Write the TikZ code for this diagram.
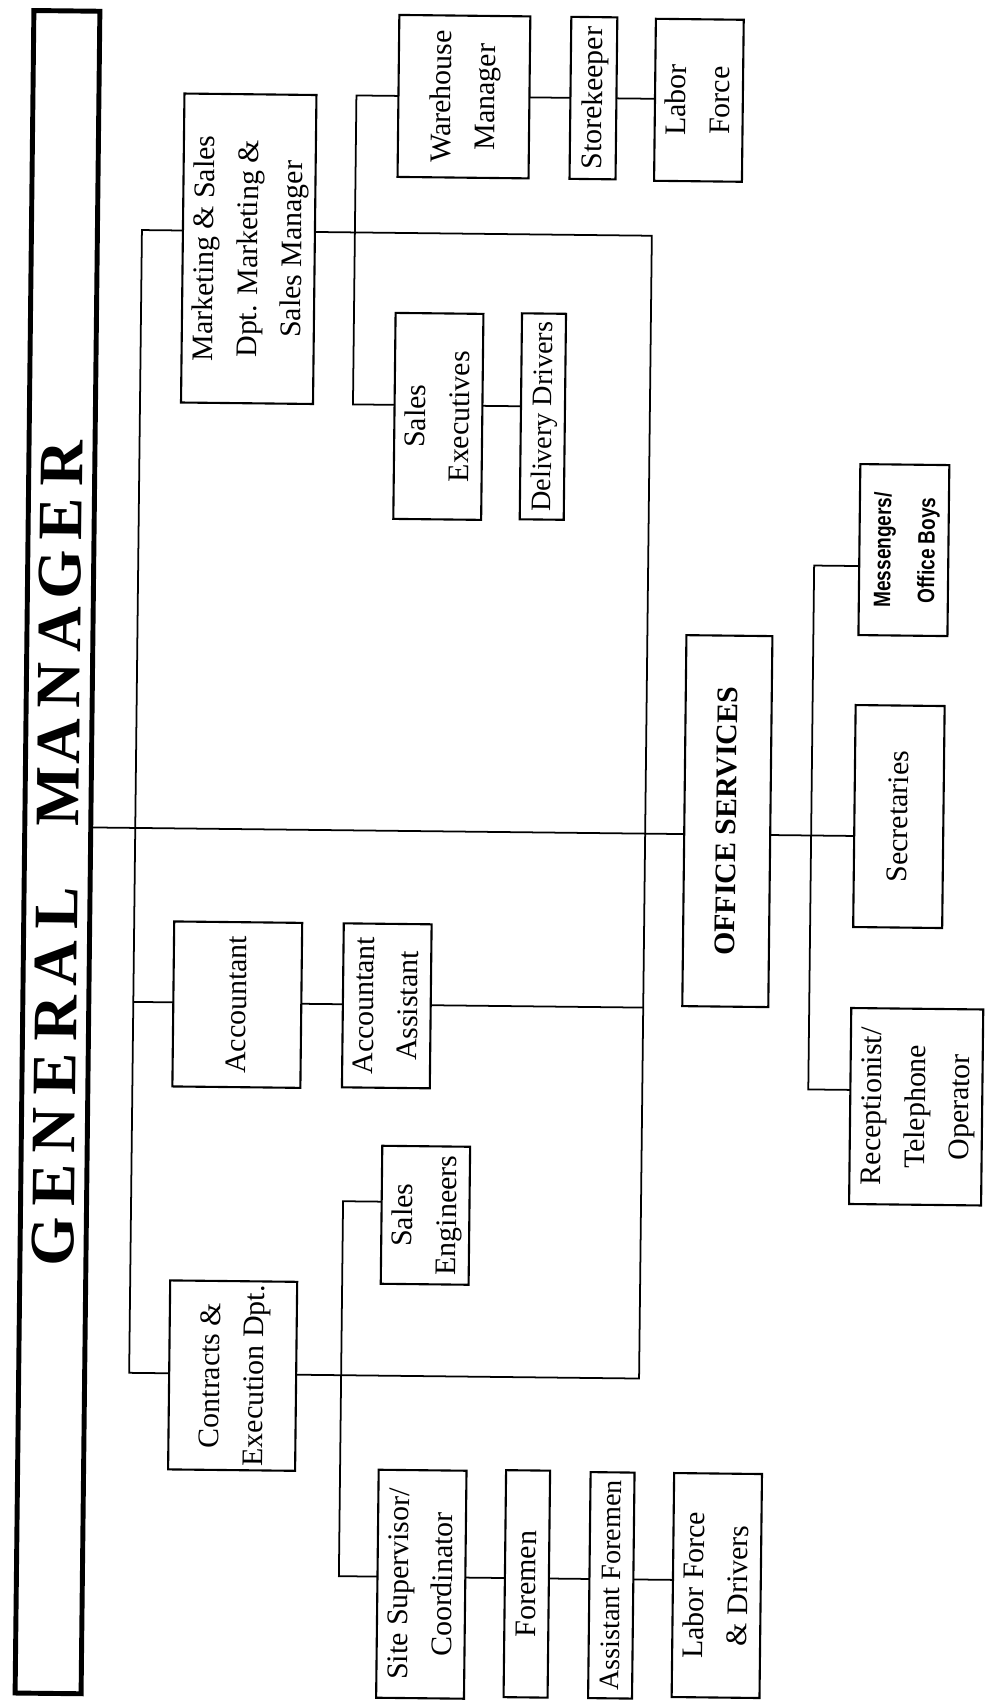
\documentclass[tikz,border=0pt]{standalone}
\usepackage{fontspec}
\usepackage{graphicx}
\setmainfont{Liberation Serif}
\newfontfamily\narrowsans[FakeStretch=0.8]{Liberation Sans}
\newcommand\orgfont{\fontsize{17}{25}\selectfont}
\newcommand\gmfont{\fontsize{36}{40}\selectfont\bfseries}
\newcommand\gmletter[1]{\makebox[1.112cm]{#1}}
\newcommand\vtext[1]{\rotatebox{90}{\begin{tabular}{@{}c@{}}#1\end{tabular}}}
% box given by its corners (x1,y1) (x2,y2), text set sideways
\newcommand\orgnode[7][]{%
  \pgfmathsetmacro\boxw{(#5-#3)*0.02}%
  \pgfmathsetmacro\boxh{(#6-#4)*0.02}%
  \node[orgbox,#1,minimum width=\boxw cm,minimum height=\boxh cm] (#2) at ({(#3+#5)/2},{(#4+#6)/2}) {\vtext{#7}};%
}
\begin{document}
\begin{tikzpicture}[x=0.02cm,y=-0.02cm,
  orgbox/.style={draw=black,line width=1.2pt,inner sep=0pt,outer sep=0pt,font=\orgfont},
  gmbox/.style={draw=black,line width=2.8pt,inner sep=0pt,outer sep=0pt,
    minimum width=1.32cm,minimum height=33.66cm},
  conn/.style={draw=black,line width=1pt}]
\fill[white] (0,0) rectangle (987,1706);
\useasboundingbox (0,0) rectangle (987,1706);

% the printed sheet sits slightly turned
\begin{scope}[rotate around={-0.64:(493,852)},transform shape]

% head of the chart
\node[gmbox] (gm) at (57.5,857) {\rotatebox{90}{\gmfont
  \gmletter{G}\gmletter{E}\gmletter{N}\gmletter{E}\gmletter{R}\gmletter{A}\gmletter{L}%
  \gmletter{}%
  \gmletter{M}\gmletter{A}\gmletter{N}\gmletter{A}\gmletter{G}\gmletter{E}\gmletter{R}}};

% marketing branch
\orgnode{mkt}{176}{97}{308}{406}{Marketing \& Sales\\Dpt. Marketing \&\\Sales Manager}
\orgnode{wh}{390}{16}{521}{178}{Warehouse\\Manager}
\orgnode{sk}{562}{16}{608}{178}{Storekeeper}
\orgnode{lf}{648}{17}{733}{179}{Labor\\Force}
\orgnode{se}{390}{314}{477}{520}{Sales\\Executives}
\orgnode[font=\fontsize{16}{25}\selectfont]{dd}{516}{313}{560}{519}{Delivery Drivers}

% office services
\orgnode[font={\narrowsans\bfseries\fontsize{13.5}{25}\selectfont}]{msg}{856}{460}{945}{631}{Messengers/\\Office Boys}
\orgnode[font={\orgfont\bfseries}]{os}{684}{633}{770}{1004}{OFFICE SERVICES}
\orgnode{sec}{854}{701}{943}{923}{Secretaries}
\orgnode{rec}{853}{1004}{985}{1200}{Receptionist/\\Telephone\\Operator}

% accounts
\orgnode{acc}{175}{925}{303}{1090}{Accountant}
\orgnode{asst}{345}{925}{432}{1089}{Accountant\\Assistant}

% contracts branch
\orgnode{ctr}{175}{1284}{302}{1473}{Contracts \&\\Execution Dpt.}
\orgnode{seng}{386}{1147}{473}{1285}{Sales\\Engineers}
\orgnode{site}{386}{1471}{473}{1699}{Site Supervisor/\\Coordinator}
\orgnode{fore}{513}{1470}{557}{1697}{Foremen}
\orgnode[font=\fontsize{16}{25}\selectfont]{afore}{598}{1471}{641}{1697}{Assistant Foremen}
\orgnode{lfd}{682}{1471}{768}{1695}{Labor Force\\\& Drivers}

% levels of the connector runs
\coordinate (wrow) at (0,97);
\coordinate (mrow) at (0,234);
\coordinate (srow) at (0,406);
\coordinate (msgrow) at (0,562);
\coordinate (gmrow) at (0,832);
\coordinate (arow) at (0,1006);
\coordinate (rrow) at (0,1086);
\coordinate (engrow) at (0,1203);
\coordinate (crow) at (0,1377);
\coordinate (siterow) at (0,1578);
% vertical buses
\coordinate (busL) at (135,0);
\coordinate (busR) at (645,0);
\coordinate (whV) at (348,0);
\coordinate (ceV) at (347,0);
\coordinate (osV) at (811,0);

% department buses
\draw[conn] (mkt.west |- mrow) -| (busL |- crow) -- (ctr.west |- crow);
\draw[conn] (mkt.east |- mrow) -| (busR |- crow) -- (ctr.east |- crow);
\draw[conn] (gm.east |- gmrow) -- (os.west |- gmrow);
\draw[conn] (busL |- arow) -- (acc.west |- arow);
\draw[conn] (acc.east |- arow) -- (asst.west |- arow);
\draw[conn] (asst.east |- arow) -- (busR |- arow);

% marketing staff
\draw[conn] (wh.west |- wrow) -| (whV |- srow) -- (se.west |- srow);
\draw[conn] (wh.east |- wrow) -- (sk.west |- wrow);
\draw[conn] (sk.east |- wrow) -- (lf.west |- wrow);
\draw[conn] (se.east |- srow) -- (dd.west |- srow);

% office staff
\draw[conn] (os.east |- gmrow) -- (sec.west |- gmrow);
\draw[conn] (msg.west |- msgrow) -| (osV |- rrow) -- (rec.west |- rrow);

% contracts staff
\draw[conn] (seng.west |- engrow) -| (ceV |- siterow) -- (site.west |- siterow);
\draw[conn] (site.east |- siterow) -- (fore.west |- siterow);
\draw[conn] (fore.east |- siterow) -- (afore.west |- siterow);
\draw[conn] (afore.east |- siterow) -- (lfd.west |- siterow);
\end{scope}
\end{tikzpicture}
\end{document}
